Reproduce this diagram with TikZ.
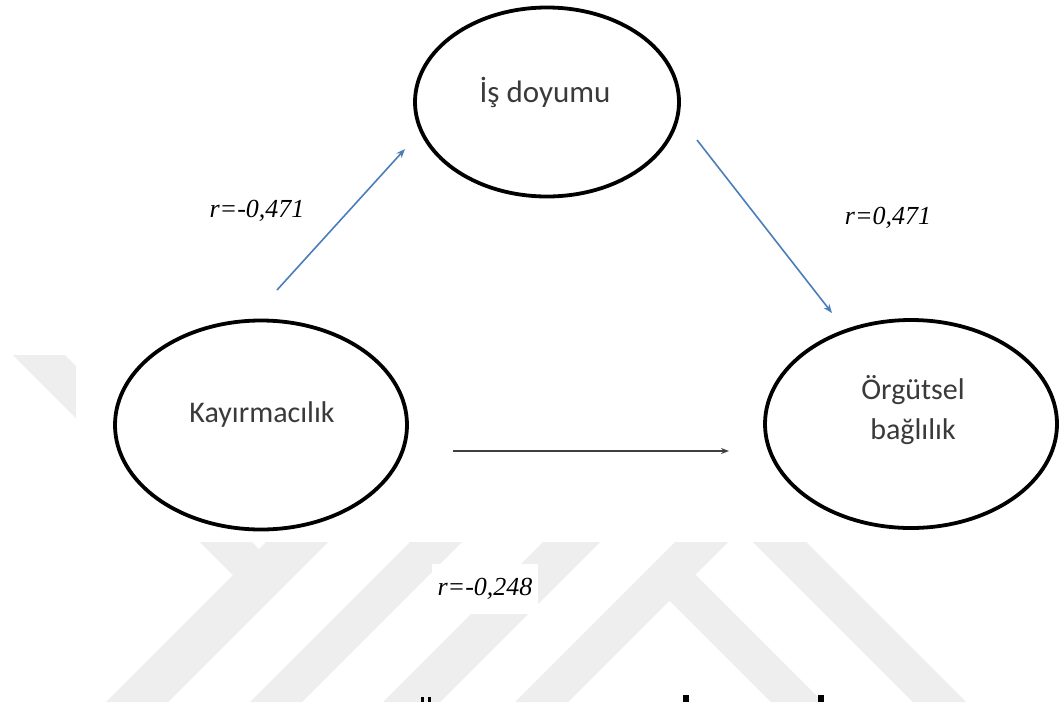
\documentclass[tikz,border=0pt]{standalone}
\usepackage{fontspec}
\setmainfont{Liberation Serif}
\newfontfamily\calibrifont{Carlito}
\usetikzlibrary{shapes.geometric,arrows.meta}
\definecolor{wm}{HTML}{EEEEEE}
\definecolor{arrblue}{HTML}{4A7EBB}
\definecolor{txtgray}{HTML}{3A3A3A}
\definecolor{arrgray}{HTML}{404040}
\begin{document}
\begin{tikzpicture}[x=1pt,y=-1pt,
  var/.style={draw=black, line width=3.8pt, ellipse, inner sep=0pt},
  vtext/.style={font=\calibrifont\fontsize{30}{40}\selectfont, text=txtgray, align=center, inner sep=0pt},
  coef/.style={font=\itshape\fontsize{26}{30}\selectfont, inner sep=0pt},
  pathb/.style={draw=arrblue, line width=1.6pt, -{Stealth[length=9pt,width=7pt]}},
  pathg/.style={draw=arrgray, line width=1.5pt, -{Stealth[length=8pt,width=6pt]}},
  band/.style={fill=wm, draw=none}]
\useasboundingbox (0,0) rectangle (1060,702);
\fill[white] (0,0) rectangle (1060,702);
% watermark
\path[band] (13,355) -- (65,355) -- (260,550) -- (234,576) -- cycle;
\path[band] (278,530) -- (340,530) -- (168,702) -- (106,702) -- cycle;
\path[band] (422,530) -- (474,530) -- (302,702) -- (250,702) -- cycle;
\path[band] (555,530) -- (612,530) -- (440,702) -- (383,702) -- cycle;
\path[band] (687,530) -- (740,530) -- (568,702) -- (515,702) -- cycle;
\path[band] (664.5,595.5) -- (690.5,569.5) -- (823,702) -- (771,702) -- cycle;
\path[band] (741,530) -- (794,530) -- (966,702) -- (913,702) -- cycle;
\fill[white] (76,0) rectangle (1060,542);
% caption fragments at the lower edge
\fill[black] (421,697) rectangle (424,702);
\fill[black] (428,697) rectangle (431,702);
\fill[black] (683,695) rectangle (689,702);
\fill[black] (818,695) rectangle (824,702);
% variables
\node[var, minimum width=264pt, minimum height=189pt] (isd) at (547,102) {};
\node[var, minimum width=292pt, minimum height=209pt] (kay) at (261,425) {};
\node[var, minimum width=292pt, minimum height=208pt] (org) at (911,424) {};
\node[vtext, font=\calibrifont\fontsize{31}{40}\selectfont] (isdt) at (545,92) {İş doyumu};
\node[vtext] (kayt) at (262,414) {Kayırmacılık};
\node[vtext] (orgt) at (913,410) {Örgütsel\\bağlılık};
% connectors
\coordinate (a1s) at (277,290);
\coordinate (a1e) at (405,149);
\coordinate (a2s) at (697,140);
\coordinate (a2e) at (832,313);
\coordinate (a3s) at (453,451);
\coordinate (a3e) at (729,451);
\draw[pathb] (a1s) -- (a1e);
\draw[pathb] (a2s) -- (a2e);
\draw[pathg] (a3s) -- (a3e);
% coefficients
\node[coef] (c1) at (257,211) {r=-0,471};
\node[coef] (c2) at (888,218) {r=0,471};
\node[coef, fill=white, inner xsep=6pt, inner ysep=14pt] (c3) at (485,589) {r=-0,248};
\end{tikzpicture}
\end{document}
